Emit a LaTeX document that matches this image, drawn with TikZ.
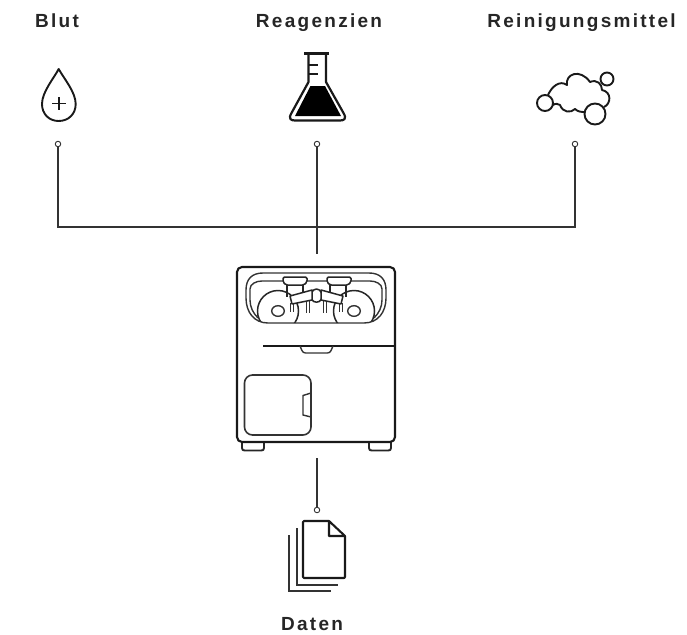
\documentclass[tikz,border=0pt]{standalone}
\usepackage{fontspec}
\setmainfont{Liberation Sans}[LetterSpace=12]
\usepackage{tikz}

\tikzset{
  titel/.style={font=\fontsize{19}{20}\selectfont\bfseries, text=black!85, inner sep=0pt, anchor=base},
  port/.style={circle, draw=black!80, fill=white, line width=0.9pt, minimum size=5.5pt, inner sep=0pt},
  wire/.style={draw=black!80, line width=1.1pt},
  icon/.style={draw=black!90, line width=1.9pt, line join=round},
  thin icon/.style={draw=black!80, line width=1.4pt},
  housing/.style={draw=black!90, line width=2.1pt},
  part/.style={draw=black!85, line width=1.5pt, fill=white, line join=round}
}

\begin{document}
\begin{tikzpicture}[x=1pt, y=-1pt]
  \useasboundingbox (0,0) rectangle (687,634);
  % labels
  \node[titel] (blut) at (57,28) {Blut};
  \node[titel] (reagenzien) at (319,28) {Reagenzien};
  \node[titel] (reinigung) at (581.5,28) {Reinigungsmittel};
  \node[titel] (daten) at (312,630) {Daten};
  % connectors
  \node[port] (portblut) at (58,144) {};
  \node[port] (portreagenz) at (317,144) {};
  \node[port] (portreinigung) at (575,144) {};
  \node[port] (portdaten) at (317,510) {};
  \coordinate (sammel) at (317,227);
  \coordinate (einlass) at (317,254);
  \coordinate (auslass) at (317,458);
  \draw[wire] (portblut) |- (sammel);
  \draw[wire] (portreinigung) |- (sammel);
  \draw[wire] (portreagenz) -- (einlass);
  \draw[wire] (auslass) -- (portdaten);
  % drop
  \draw[icon] (58.7,69) .. controls (54,78) and (42,92) .. (42,104) .. controls (42,114) and (49,121) .. (58.7,121) .. controls (68.5,121) and (75.7,114) .. (75.7,104) .. controls (75.7,92) and (63.5,78) .. (58.7,69) -- cycle;
  \draw[icon] (52,103.5) -- (65.5,103.5);
  \draw[icon] (58.7,97) -- (58.7,110);
  % flask
  \draw[icon, line width=2.2pt] (304,53.5) -- (329,53.5);
  \draw[icon, line width=2.2pt] (308.5,53.5) -- (308.5,82) -- (291.5,113) .. controls (288,119) and (291,120.5) .. (295,120.5) -- (340,120.5) .. controls (344,120.5) and (347,119) .. (343.5,113) -- (326,82) -- (326,53.5);
  \draw[icon, line width=2.2pt] (308.5,65) -- (318,65);
  \draw[icon, line width=2.2pt] (308.5,74) -- (318,74);
  \fill[black] (310.5,86) -- (325,86) -- (341,116) -- (295,116) -- cycle;
  % foam
  \draw[icon] (545,103) circle[radius=8];
  \draw[icon] (595,114) circle[radius=10.5];
  \draw[icon] (607,79) circle[radius=6.5];
  \draw[icon] (548,95) .. controls (552,86) and (560,80) .. (567,85) .. controls (565,74) and (580,68) .. (590,82) .. controls (597,79) and (602,84) .. (602,90) .. controls (612,92) and (611,104) .. (604,107);
  \draw[icon] (553,105) .. controls (556,103) and (558,104) .. (560,105) .. controls (563,113) and (571,113) .. (575,109) .. controls (578,112) and (582,112) .. (585,112);
  % device
  \draw[part, line width=1.9pt] (242,442) -- (242,448) .. controls (242,450) and (243,450.5) .. (245,450.5) -- (261,450.5) .. controls (263,450.5) and (264,450) .. (264,448) -- (264,442);
  \draw[part, line width=1.9pt] (369,442) -- (369,448) .. controls (369,450) and (370,450.5) .. (372,450.5) -- (388,450.5) .. controls (390,450.5) and (391,450) .. (391,448) -- (391,442);
  \draw[housing, rounded corners=5pt] (237,267) rectangle (395,442);
  % tray with rollers
  \draw[thin icon] (258,318) .. controls (253,313) and (250,307) .. (250,300) -- (250,289) .. controls (250,284) and (256,281) .. (262,281) -- (370,281) .. controls (376,281) and (382,284) .. (382,289) -- (382,300) .. controls (382,307) and (379,313) .. (374,318);
  \begin{scope}
    \clip (246,290) .. controls (246,279) and (252,273) .. (263,273) -- (369,273) .. controls (380,273) and (386,279) .. (386,290) -- (386,298) .. controls (386,312) and (378,323) .. (364,323) -- (268,323) .. controls (254,323) and (246,312) .. (246,298) -- cycle;
    \draw[part] (278,311) circle[radius=20.5];
    \draw[part] (354,311) circle[radius=20.5];
  \end{scope}
  \draw[thin icon] (246,290) .. controls (246,279) and (252,273) .. (263,273) -- (369,273) .. controls (380,273) and (386,279) .. (386,290) -- (386,298) .. controls (386,312) and (378,323) .. (364,323) -- (268,323) .. controls (254,323) and (246,312) .. (246,298) -- cycle;
  \draw[thin icon] (278,311) ellipse[x radius=6.3, y radius=5.3];
  \draw[thin icon] (354,311) ellipse[x radius=6.3, y radius=5.3];
  % pins
  \foreach \px/\ptop/\pbot in {292/303/312, 308/301/313, 325/301/313, 341/303/312}
    \draw[thin icon, line width=1.1pt] (\px-1.3,\ptop) -- (\px-1.3,\pbot) (\px+1.3,\ptop) -- (\px+1.3,\pbot);
  % valve heads
  \draw[part] (287,284) -- (287,297) (303,284) -- (303,294);
  \draw[part] (330,284) -- (330,294) (346,284) -- (346,297);
  \draw[part, rounded corners=1.5pt] (283,277) -- (307,277) -- (307,282) -- (304,285) -- (286,285) -- (283,282) -- cycle;
  \draw[part, rounded corners=1.5pt] (327,277) -- (351,277) -- (351,282) -- (348,285) -- (330,285) -- (327,282) -- cycle;
  \draw[part, rounded corners=3pt] (311,292) -- (316.5,288) -- (322,292) -- (322,300) -- (316.5,303) -- (311,300) -- cycle;
  \draw[part] (290,296) -- (312,290) -- (312,300) -- (292,304) -- cycle;
  \draw[part] (343,296) -- (321,290) -- (321,300) -- (341,304) -- cycle;
  % flap and door
  \draw[housing] (263,346) -- (395,346);
  \draw[thin icon, rounded corners=2.5pt] (300,346) -- (303,353) -- (330,353) -- (333,346);
  \draw[thin icon, line width=1.6pt, rounded corners=8pt] (244.5,375) rectangle (311,435);
  \draw[thin icon] (311,393) -- (303,395.5) -- (303,415) -- (311,417);
  % stacked sheets
  \draw[icon, line width=2.1pt, rounded corners=1pt] (329,521) -- (303,521) -- (303,578) -- (345,578) -- (345,536);
  \draw[icon, line width=2.1pt] (329,521) -- (345,536) -- (329,536) -- cycle;
  \draw[thin icon] (297,528) -- (297,585) -- (338,585);
  \draw[thin icon] (289,535) -- (289,591) -- (331,591);
\end{tikzpicture}
\end{document}
